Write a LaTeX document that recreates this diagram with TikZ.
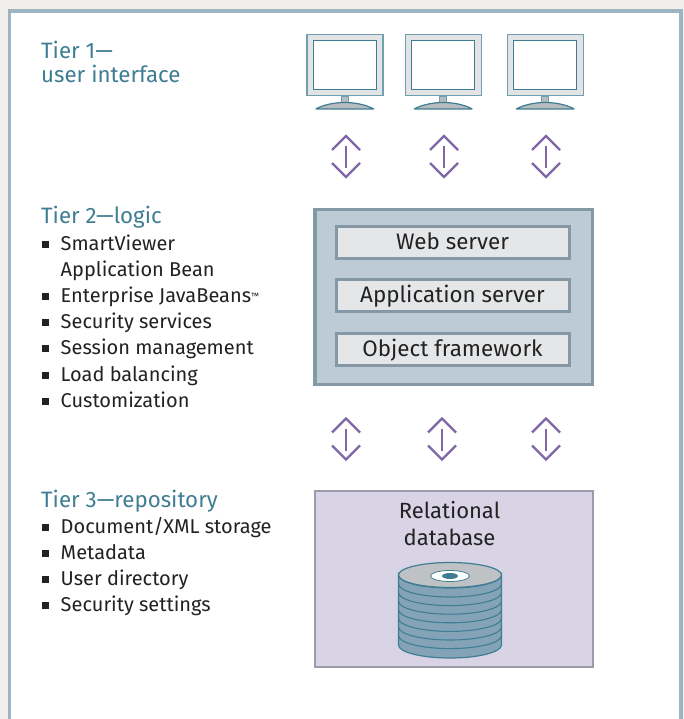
\documentclass[tikz,border=0pt]{standalone}
\usepackage{fontspec}
\setmainfont{Fira Sans}[Scale=1]
\definecolor{bgc}{HTML}{F0EFEB}
\definecolor{framec}{HTML}{9DB5C3}
\definecolor{tierc}{HTML}{3F7D93}
\definecolor{txtc}{HTML}{222222}
\definecolor{servfill}{HTML}{BCCBD5}
\definecolor{servline}{HTML}{8598A5}
\definecolor{boxfill}{HTML}{E4E6E8}
\definecolor{dbfill}{HTML}{D9D3E6}
\definecolor{dbline}{HTML}{9A9CAC}
\definecolor{arrowc}{HTML}{7F66A6}
\definecolor{monline}{HTML}{6F9FB0}
\definecolor{monfill}{HTML}{E2E3E5}
\definecolor{monbase}{HTML}{B7BCC0}
\definecolor{discside}{HTML}{85A3B6}
\definecolor{discline}{HTML}{3F7D93}
\definecolor{disctop}{HTML}{BEC2C5}
\tikzset{
  tiertext/.style={anchor=base west,inner sep=0pt,text=tierc,font=\fontsize{22.3}{28}\selectfont,align=left},
  itemtext/.style={anchor=base west,inner sep=0pt,text=txtc,font=\fontsize{20}{26}\selectfont},
  bulletbox/.style={fill=txtc,draw=none,minimum size=7pt,inner sep=0pt},
  servbox/.style={draw=servline,line width=3.5pt,fill=servfill,inner sep=0pt},
  innerbox/.style={draw=servline,line width=3pt,fill=boxfill,inner sep=0pt,minimum width=233pt,minimum height=32pt,text height=17pt,text depth=3pt,text=txtc,font=\fontsize{22.4}{26}\selectfont},
  dbbox/.style={draw=dbline,line width=2pt,fill=dbfill,inner sep=0pt},
  dbtext/.style={text=txtc,font=\fontsize{22}{27}\selectfont,align=center,inner sep=0pt},
  arrowline/.style={draw=arrowc,line width=2.2pt},
}
\newcommand{\monitor}[2]{%
  \node[draw=monline,line width=1.5pt,fill=monfill,minimum width=76pt,minimum height=61pt,inner sep=0pt,anchor=north west] (#2) at (#1,34) {};
  \node[draw=tierc,line width=1.2pt,fill=white,minimum width=63pt,minimum height=49pt,inner sep=0pt] (#2s) at ([yshift=0.5pt]#2.center) {};
  \draw[draw=monline,line width=.8pt,fill=monbase] ([xshift=-3.5pt]#2.south) rectangle ([xshift=3.5pt,yshift=-6.5pt]#2.south);
  \draw[draw=tierc,line width=1.2pt,line join=bevel,fill=monbase] ([xshift=-29pt,yshift=-12.5pt]#2.south) .. controls ([xshift=-20pt,yshift=-7.5pt]#2.south) and ([xshift=-8pt,yshift=-6pt]#2.south) .. ([yshift=-6pt]#2.south) .. controls ([xshift=8pt,yshift=-6pt]#2.south) and ([xshift=20pt,yshift=-7.5pt]#2.south) .. ([xshift=29pt,yshift=-12.5pt]#2.south) -- cycle;
}
\newcommand{\updown}[2]{% x, top y
  \coordinate (ua) at (#1,#2);
  \coordinate (ub) at (#1,#2+41);
  \draw[arrowline,line join=miter] ([xshift=-14pt,yshift=-14pt]ua) -- (ua) -- ([xshift=14pt,yshift=-14pt]ua);
  \draw[arrowline,line join=miter] ([xshift=-14pt,yshift=14pt]ub) -- (ub) -- ([xshift=14pt,yshift=14pt]ub);
  \draw[arrowline] ([yshift=-10pt]ua) -- ([yshift=9pt]ub);
}
\begin{document}
\begin{tikzpicture}[x=1pt,y=-1pt]
\useasboundingbox (0,0) rectangle (684,719);
\fill[bgc] (0,0) rectangle (684,719);
\fill[white] (9.25,11.25) rectangle (681,719);
\draw[framec,line width=3.5pt] (9.25,719) -- (9.25,11.25) -- (681,11.25) -- (681,719);
% left texts
\node[tiertext] (t1a) at (41,59) {Tier 1—};
\node[tiertext] (t1b) at (41,83) {user interface};
\node[tiertext] (t2) at (41,223) {Tier 2—logic};
\node[tiertext] (t3) at (41,507) {Tier 3—repository};
\foreach \n/\y/\t in {a/250/{SmartViewer},c/302/{Enterprise JavaBeans\raisebox{3pt}{\fontsize{9}{9}\selectfont ™}},d/328/{Security services},e/354/{Session management},f/381/{Load balancing},g/407/{Customization},h/533/{Document/XML storage},i/559/{Metadata},j/585/{User directory},k/611/{Security settings}}{
  \node[itemtext] (it\n) at (60.5,\y) {\t};
  \node[bulletbox] (bu\n) at (45,\y-5.5) {};
}
\node[itemtext] (itb) at (60.5,276) {Application Bean};
% monitors
\monitor{306}{m1}
\monitor{404.5}{m2}
\monitor{506.5}{m3}
% arrows
\updown{346}{136}
\updown{444}{136}
\updown{546}{136}
\updown{346}{418.5}
\updown{442}{418.5}
\updown{546}{418.5}
% server
\node[servbox,minimum width=277.5pt,minimum height=174.5pt,anchor=north west] (srv) at (313,208) {};
\node[innerbox] (web) at (452.5,242.5) {Web server};
\node[innerbox] (app) at (452.5,295.5) {Application server};
\node[innerbox] (obj) at (452.5,349) {Object framework};
% database
\node[dbbox,minimum width=278pt,minimum height=176pt,anchor=north west] (db) at (314,490) {};
\node[dbtext] (dbt) at (449.5,524) {Relational\\database};
% cylinder
\draw[draw=discline,line width=1.2pt,fill=discside] (398.5,575) -- (398.5,645) arc[start angle=180,end angle=0,x radius=51.5,y radius=13] -- (501.5,575) arc[start angle=0,end angle=180,x radius=51.5,y radius=13] -- cycle;
\foreach \d in {1,...,7}{
  \draw[draw=discline,line width=1.1pt] (398.5,575+8.6*\d+.4) arc[start angle=180,end angle=0,x radius=51.5,y radius=13];
}
\draw[draw=discline,line width=1.2pt,fill=disctop] (450,575) ellipse[x radius=51.5,y radius=12.5];
\draw[draw=discline,line width=.8pt,fill=white] (450,576) ellipse[x radius=19.5,y radius=5.5];
\fill[tierc] (450,576) ellipse[x radius=8,y radius=3];
\end{tikzpicture}
\end{document}
